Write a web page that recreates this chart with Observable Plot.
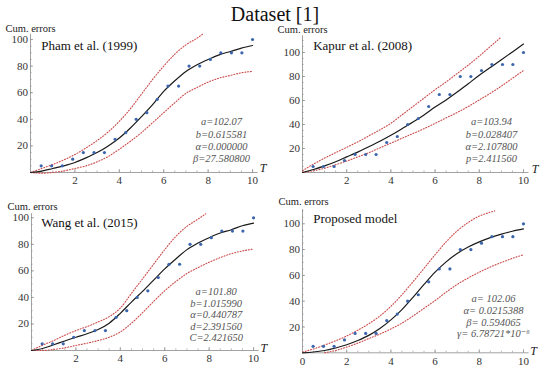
<!DOCTYPE html>
<html><head><meta charset="utf-8">
<script src="https://cdn.jsdelivr.net/npm/d3@7"></script>
<script src="https://cdn.jsdelivr.net/npm/@observablehq/plot@0.6"></script>
<style>
body{margin:0;background:#fff}
#wrap{position:relative;width:550px;height:375px;overflow:hidden;background:#fff}
.panel{position:absolute}
#title{position:absolute;left:0;top:4px;width:550px;text-align:center;font-family:'Liberation Serif','Tinos','Times New Roman','Nimbus Roman','DejaVu Serif',serif;font-size:20px;line-height:20px;color:#111}
</style></head><body>
<div id="wrap"><div id="title">Dataset [1]</div></div>
<script>
// Observed cumulative errors (same in all four panels)
const tObs = [0.48, 0.95, 1.43, 1.90, 2.38, 2.86, 3.33, 3.81, 4.29, 4.76, 5.24, 5.71, 6.19, 6.67, 7.14, 7.62, 8.10, 8.57, 9.05, 9.52, 10.00];
const cumErrors = [5, 5, 5, 10, 15, 15, 15, 25, 30, 40, 45, 55, 65, 65, 80, 80, 85, 90, 90, 90, 100];

// Curve sampling grid
const tGrid = [0, 0.5, 1, 1.5, 2, 2.5, 3, 3.5, 4, 4.5, 5, 5.5, 6, 6.5, 7, 7.5, 8, 8.5, 9, 9.5, 10];

// Pham et al. (1999)
const phamFit   = [0, 1, 3, 5, 7.5, 11, 15, 20, 26, 33.5, 42, 51, 61, 69, 76, 81, 85, 88.5, 91, 93.5, 95.5];
const phamLower = [0, -0.5, 0, 1.2, 3, 5, 8, 12, 17.5, 23.5, 30, 37.5, 45, 52.5, 59.5, 64, 68, 71, 73, 75, 76];
const phamUpperT = [0, 0.5, 1, 1.5, 2, 2.5, 3, 3.5, 4, 4.5, 5, 5.5, 6, 6.5, 7, 7.5, 7.75];
const phamUpper  = [0, 3, 6, 9.5, 13.5, 18.5, 24, 30.5, 38.5, 48, 59, 70, 80, 89, 96, 101, 104];
const phamParams = ["a=102.07", "b=0.615581", "α=0.000000", "β=27.580800"];

// Kapur et al. (2008)
const kapurFit   = [0, 2.5, 5.5, 9, 13, 17, 21.5, 26, 31, 36.5, 42, 48, 54.5, 60.5, 67, 74, 81, 87.5, 94, 100.5, 107];
const kapurLower = [0, 1.5, 3.5, 6.5, 9.5, 13, 16.5, 20.5, 24.5, 28.5, 32.5, 36.5, 41, 45.5, 50, 55, 60.5, 66, 72, 78.5, 85];
const kapurUpperT = [0, 0.5, 1, 1.5, 2, 2.5, 3, 3.5, 4, 4.5, 5, 5.5, 6, 6.5, 7, 7.5, 8, 8.5, 9];
const kapurUpper  = [1.5, 7, 12, 16.5, 21, 25.5, 30.5, 35.5, 41, 48, 55, 62, 69, 75.5, 82.5, 89.5, 97, 105, 113];
const kapurParams = ["a=103.94", "b=0.028407", "α=2.107800", "p=2.411560"];

// Wang et al. (2015)
const wangFit   = [0, 1.5, 4.3, 7.2, 10, 12.6, 15.8, 20.6, 28, 36.5, 44.5, 53, 61.5, 69, 76, 81, 85, 88.5, 91, 94, 96];
const wangLower = [0, 0, 0.8, 2, 3.8, 5.5, 7.5, 10, 14, 20.5, 28.5, 37, 45, 52, 58, 62.5, 66.5, 70, 73, 75, 76.5];
const wangUpperT = [0, 0.5, 1, 1.5, 2, 2.5, 3, 3.5, 4, 4.5, 5, 5.5, 6, 6.5, 7, 7.5, 7.85];
const wangUpper  = [0, 4, 7.5, 11.5, 15, 18, 21.5, 25.5, 32, 43, 54, 65, 76, 86, 93.5, 99, 103];
const wangParams = ["a=101.80", "b=1.015990", "α=0.440787", "d=2.391560", "C=2.421650"];

// Proposed model
const propFit    = [0, 0.6, 1.8, 3.7, 6.2, 9.5, 13.5, 18.8, 25.5, 33.5, 43, 53, 62.5, 70.5, 77, 82, 86, 89.3, 92, 94.2, 96];
const propLowerT = [1, 1.5, 2, 2.5, 3, 3.5, 4, 4.5, 5, 5.5, 6, 6.5, 7, 7.5, 8, 8.5, 9, 9.5, 10];
const propLower  = [0, 1.8, 4.4, 7.5, 11, 14.5, 18.5, 23, 28.5, 34.5, 40.5, 47, 53, 58, 62.5, 66.5, 70, 73.2, 76];
const propUpperT = [0, 0.5, 1, 1.5, 2, 2.5, 3, 3.5, 4, 4.5, 5, 5.5, 6, 6.5, 7, 7.5, 8, 8.5, 8.7];
const propUpper  = [0.5, 3, 6, 9.3, 13, 17.5, 22.5, 28.5, 36, 45, 55, 65.5, 76, 86, 94.5, 101, 106, 109, 110];
const propParams = ["a= 102.06", "α= 0.0215388", "β= 0.594065", "γ= 6.78721*10⁻⁶"];

// Tick values
const xTickLabels = [2, 4, 6, 8, 10];
const xTickLabelsZero = [0, 2, 4, 6, 8, 10];
const yTickLabels = [20, 40, 60, 80, 100];
const xMinorTicks = [0.5, 1, 1.5, 2, 2.5, 3, 3.5, 4, 4.5, 5, 5.5, 6, 6.5, 7, 7.5, 8, 8.5, 9, 9.5, 10];
const yMinorTicks = [5, 10, 15, 20, 25, 30, 35, 40, 45, 50, 55, 60, 65, 70, 75, 80, 85, 90, 95, 100, 105, 110];

const FONT = "'Liberation Serif','Tinos','Times New Roman','Nimbus Roman','DejaVu Serif',serif";
const AXIS = "#8a8a8a";
const RED = "#cc4a4a";
const BLUE = "#3b66ad";

const zip = (t, v) => t.map((x, i) => ({t: x, v: v[i]}));

const panels = [
  {name: "Pham et al. (1999)", fit: phamFit, lowT: tGrid, low: phamLower, upT: phamUpperT, up: phamUpper, params: phamParams,
   left: 0, top: 0, w: 275, h: 190, mL: 30, mR: 17.4, mT: 33.7, mB: 18, yTop: 104, xl: xTickLabels,
   cum: [-25, -5.7], ttl: [10.7, 11.3], par: [191, 105.5, 1.16], T: [5, -4]},
  {name: "Kapur et al. (2008)", fit: kapurFit, lowT: tGrid, low: kapurLower, upT: kapurUpperT, up: kapurUpper, params: kapurParams,
   left: 275, top: 0, w: 275, h: 190, mL: 27, mR: 21.5, mT: 35.2, mB: 18, yTop: 114, xl: xTickLabels,
   cum: [-25, -6.5], ttl: [10.7, 9.8], par: [189, 104, 1.16], T: [6, -3]},
  {name: "Wang et al. (2015)", fit: wangFit, lowT: tGrid, low: wangLower, upT: wangUpperT, up: wangUpper, params: wangParams,
   left: 0, top: 190, w: 275, h: 180, mL: 31, mR: 16.4, mT: 23.3, mB: 20, yTop: 103, xl: xTickLabels,
   cum: [-24, -7.3], ttl: [9.7, 8.7], par: [184.7, 100.7, 1.1], T: [4.7, -2]},
  {name: "Proposed model", fit: propFit, lowT: propLowerT, low: propLower, upT: propUpperT, up: propUpper, params: propParams,
   left: 275, top: 190, w: 275, h: 182, mL: 27, mR: 21.5, mT: 19.1, mB: 19.7, yTop: 111, xl: xTickLabelsZero,
   cum: [-24, -8.1], ttl: [10.7, 8.9], par: [191, 106.5, 1.12], T: [4.5, -2]}
];

const obs = zip(tObs, cumErrors);
const wrap = document.getElementById("wrap");

for (const p of panels) {
  const svg = Plot.plot({
    width: p.w, height: p.h,
    marginLeft: p.mL, marginRight: p.mR, marginTop: p.mT, marginBottom: p.mB,
    x: {domain: [0, 10.25], ticks: p.xl, tickSize: 0, tickPadding: 4, label: null},
    y: {domain: [0, p.yTop], ticks: yTickLabels, tickSize: 0, tickPadding: 2.5, label: null},
    style: {fontFamily: FONT, fontSize: "11px", color: "#333", background: "transparent", overflow: "visible"},
    marks: [
      Plot.ruleY([0], {stroke: AXIS, strokeWidth: 0.8}),
      Plot.ruleX([0], {stroke: AXIS, strokeWidth: 0.8}),
      Plot.ruleX(xMinorTicks, {x: d => d, y1: 0, y2: 0, insetBottom: 1.6, stroke: AXIS, strokeWidth: 0.6}),
      Plot.ruleX(xTickLabels, {x: d => d, y1: 0, y2: 0, insetBottom: 3, stroke: AXIS, strokeWidth: 0.7}),
      Plot.ruleY(yMinorTicks.filter(v => v <= p.yTop), {y: d => d, x1: 0, x2: 0, insetRight: -1.6, stroke: AXIS, strokeWidth: 0.6}),
      Plot.ruleY(yTickLabels, {y: d => d, x1: 0, x2: 0, insetRight: -3, stroke: AXIS, strokeWidth: 0.7}),
      Plot.line(zip(p.lowT, p.low), {x: "t", y: "v", stroke: RED, strokeWidth: 1.1, strokeDasharray: "1,1.8", curve: "monotone-x"}),
      Plot.line(zip(p.upT, p.up), {x: "t", y: "v", stroke: RED, strokeWidth: 1.1, strokeDasharray: "1,1.8", curve: "monotone-x"}),
      Plot.line(zip(tGrid, p.fit), {x: "t", y: "v", stroke: "#1a1a1a", strokeWidth: 1.2, curve: "monotone-x"}),
      Plot.dot(obs, {x: "t", y: "v", r: 1.6, fill: BLUE}),
      Plot.text(["Cum. errors"], {text: d => d, frameAnchor: "top-left", dx: p.cum[0], dy: p.cum[1], textAnchor: "start", lineAnchor: "middle", fontSize: 10.5, fill: "#222"}),
      Plot.text([p.name], {text: d => d, frameAnchor: "top-left", dx: p.ttl[0], dy: p.ttl[1], textAnchor: "start", lineAnchor: "middle", fontSize: 13, fill: "#111"}),
      Plot.text([p.params.join("\n")], {text: d => d, frameAnchor: "top-left", dx: p.par[0], dy: p.par[1], textAnchor: "middle", lineAnchor: "middle", lineHeight: p.par[2], fontSize: 10.5, fontStyle: "italic", fill: "#555"}),
      Plot.text(["T"], {text: d => d, frameAnchor: "bottom-right", dx: p.T[0], dy: p.T[1], textAnchor: "middle", lineAnchor: "middle", fontSize: 12, fontStyle: "italic", fill: "#222"})
    ]
  });
  const div = document.createElement("div");
  div.className = "panel";
  div.style.left = p.left + "px";
  div.style.top = p.top + "px";
  div.appendChild(svg);
  wrap.appendChild(div);
}
</script>
</body></html>
